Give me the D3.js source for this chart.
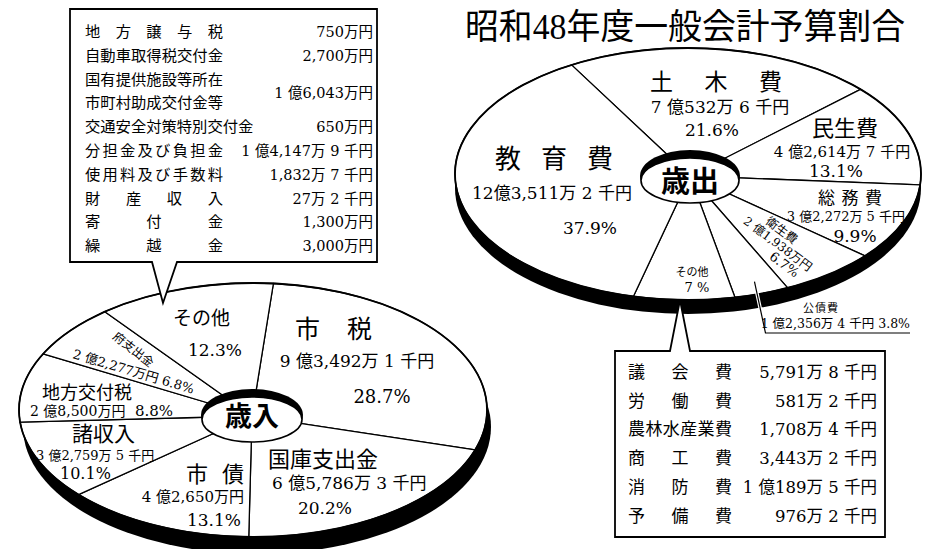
<!DOCTYPE html>
<html><head><meta charset="utf-8">
<script src="https://cdn.jsdelivr.net/npm/d3@7"></script>
<style>body{margin:0;background:#fff}svg{display:block}</style>
</head><body><svg id="c" width="928" height="549"></svg>
<script>
// ---------------- data ----------------
const chartTitle = "昭和48年度一般会計予算割合";
const revenueTitle = "歳入";
const expenseTitle = "歳出";

const revenueNames   = ["市税", "国庫支出金", "市債", "諸収入", "地方交付税", "府支出金", "その他"];
const revenueAmounts = ["9 億3,492万 1 千円", "6 億5,786万 3 千円", "4 億2,650万円", "3 億2,759万 5 千円", "2 億8,500万円", "2 億2,277万円", ""];
const revenueShares  = [28.7, 20.2, 13.1, 10.1, 8.8, 6.8, 12.3];

const expenseNames   = ["土木費", "民生費", "総務費", "衛生費", "公債費", "その他", "教育費"];
const expenseAmounts = ["7 億532万 6 千円", "4 億2,614万 7 千円", "3 億2,272万 5 千円", "2 億1,938万円", "1 億2,356万 4 千円", "", "12億3,511万 2 千円"];
const expenseShares  = [21.6, 13.1, 9.9, 6.7, 3.8, 7, 37.9];

const otherRevenueItems   = ["地方譲与税", "自動車取得税交付金", "国有提供施設等所在\n市町村助成交付金等", "交通安全対策特別交付金", "分担金及び負担金", "使用料及び手数料", "財産収入", "寄付金", "繰越金"];
const otherRevenueAmounts = ["750万円", "2,700万円", "1 億6,043万円", "650万円", "1 億4,147万 9 千円", "1,832万 7 千円", "27万 2 千円", "1,300万円", "3,000万円"];

const otherExpenseItems   = ["議会費", "労働費", "農林水産業費", "商工費", "消防費", "予備費"];
const otherExpenseAmounts = ["5,791万 8 千円", "581万 2 千円", "1,708万 4 千円", "3,443万 2 千円", "1 億189万 5 千円", "976万 2 千円"];

// ---------------- layout ----------------
const CJK = "'Noto Sans CJK JP', sans-serif";
const MIX = "'DejaVu Serif', 'Noto Sans CJK JP', serif";

const revPie = {cx: 253, cy: 410, rx: 234, ry: 127, ax: 252, ay: 416, start: 5, dx: 4, dy: 17};
const expPie = {cx: 688, cy: 174, rx: 233, ry: 126, ax: 690, ay: 176, start: -30, dx: 0, dy: 14};

const revLayout = [
  {name: {spread: [295, 372], y: 338, size: 25}, amt: {x: 357, y: 367, size: 17, anchor: "middle"}, pct: {x: 382, y: 403, size: 18, anchor: "middle"}},
  {name: {x: 268, y: 467, size: 22}, amt: {x: 272, y: 489, size: 17}, pct: {x: 325, y: 514, size: 17, anchor: "middle"}},
  {name: {spread: [186, 244], y: 482, size: 22}, amt: {x: 244, y: 502, size: 15, anchor: "end"}, pct: {x: 214, y: 526, size: 17, anchor: "middle"}},
  {name: {x: 72, y: 441, size: 21}, amt: {x: 36, y: 460, size: 13}, pct: {x: 60, y: 479, size: 16}},
  {name: {x: 42, y: 399, size: 18}, amt: {x: 30, y: 416, size: 14}, pct: {x: 135, y: 416, size: 15}},
  {rot: true, name: {x: 112, y: 338, size: 12, angle: 38}, amt: {x: 72, y: 358, size: 13, angle: 16.5}},
  {name: {x: 173, y: 325, size: 19}, pct: {x: 215, y: 356, size: 17, anchor: "middle"}}
];

const expLayout = [
  {name: {spread: [650, 782], y: 90, size: 23}, amt: {x: 720, y: 113, size: 17, anchor: "middle"}, pct: {x: 712, y: 136, size: 17, anchor: "middle"}},
  {name: {x: 812, y: 136, size: 22}, amt: {x: 842, y: 157, size: 15, anchor: "middle"}, pct: {x: 836, y: 177, size: 17, anchor: "middle"}},
  {name: {spread: [818, 882], y: 204, size: 17}, amt: {x: 905, y: 221, size: 13, anchor: "end"}, pct: {x: 855, y: 242, size: 17, anchor: "middle"}},
  {wedge: true, name: {x: 88, y: -7, size: 12}, amt: {x: 70, y: 6, size: 12}, pct: {x: 112, y: 19, size: 13}},
  {leader: true, name: {spread: [803, 838], y: 312, size: 11}, amt: {x: 910, y: 328, size: 12.5, anchor: "end"}},
  {name: {x: 692, y: 276, size: 11, anchor: "middle"}, pct: {x: 697, y: 292, size: 13, anchor: "middle", sep: " "}},
  {name: {spread: [495, 613], y: 168, size: 26}, amt: {x: 472, y: 199, size: 17}, pct: {x: 590, y: 234, size: 17, anchor: "middle"}}
];

// ---------------- helpers ----------------
const svg = d3.select("#c");
svg.append("rect").attr("width", 928).attr("height", 549).attr("fill", "#fff");

function put(g, s, x, y, size, opt = {}) {
  return g.append("text")
    .attr("x", x).attr("y", y)
    .attr("font-size", size)
    .attr("font-family", opt.family || MIX)
    .attr("font-weight", opt.weight || 400)
    .attr("text-anchor", opt.anchor || "start")
    .attr("fill", "#000")
    .text(s);
}
function spread(g, s, x0, x1, y, size, opt = {}) {
  const chars = Array.from(s);
  const n = chars.length;
  const step = n > 1 ? (x1 - x0 - size) / (n - 1) : 0;
  if (n === 1 || step < size) { put(g, s, x0, y, size, Object.assign({family: CJK}, opt)); return; }
  chars.forEach((c, i) => put(g, c, x0 + i * step, y, size, Object.assign({family: CJK}, opt)));
}
function label(g, spec, s, family) {
  if (!s) return;
  if (spec.spread) spread(g, s, spec.spread[0], spec.spread[1], spec.y, spec.size);
  else put(g, s, spec.x, spec.y, spec.size, {anchor: spec.anchor, family: family});
}

function drawPie(cfg, shares, names, amounts, layout, centerText, centerCfg) {
  const g = svg.append("g");
  const {cx, cy, rx, ry, ax, ay, start, dx, dy} = cfg;
  const s0 = start * Math.PI / 180;
  const arcs = d3.pie().sort(null).value(d => d).startAngle(s0).endAngle(s0 + 2 * Math.PI)(shares);
  const pt = a => [cx + rx * Math.sin(a), cy - ry * Math.cos(a)];

  // side (thickness)
  g.append("ellipse").attr("cx", cx + dx).attr("cy", cy + dy).attr("rx", rx).attr("ry", ry).attr("fill", "#000");
  // slices
  g.selectAll("path.slice").data(arcs).join("path")
    .attr("class", "slice")
    .attr("d", d => {
      const p0 = pt(d.startAngle), p1 = pt(d.endAngle);
      const large = (d.endAngle - d.startAngle) > Math.PI ? 1 : 0;
      return `M${ax},${ay}L${p0[0]},${p0[1]}A${rx},${ry} 0 ${large} 1 ${p1[0]},${p1[1]}Z`;
    })
    .attr("fill", "#fff").attr("stroke", "#000").attr("stroke-width", 1.3).attr("stroke-linejoin", "round");
  g.append("ellipse").attr("cx", cx).attr("cy", cy).attr("rx", rx).attr("ry", ry)
    .attr("fill", "none").attr("stroke", "#000").attr("stroke-width", 1.8);

  // labels
  arcs.forEach((d, i) => {
    const L = layout[i];
    const pctText = shares[i] + (L.pct && L.pct.sep ? L.pct.sep : "") + "%";
    if (L.rot) {
      const gn = g.append("g").attr("transform", `translate(${L.name.x},${L.name.y}) rotate(${L.name.angle})`);
      put(gn, names[i], 0, 0, L.name.size, {family: CJK});
      const ga = g.append("g").attr("transform", `translate(${L.amt.x},${L.amt.y}) rotate(${L.amt.angle})`);
      put(ga, amounts[i] + "  " + pctText, 0, 0, L.amt.size);
      return;
    }
    if (L.wedge) {
      const p0 = pt(d.startAngle), p1 = pt(d.endAngle);
      const a0 = Math.atan2(p0[1] - ay, p0[0] - ax), a1 = Math.atan2(p1[1] - ay, p1[0] - ax);
      const ang = (a0 + a1) / 2 * 180 / Math.PI;
      const gw = g.append("g").attr("transform", `translate(${ax},${ay}) rotate(${ang})`);
      put(gw, names[i], L.name.x, L.name.y, L.name.size, {family: CJK});
      put(gw, amounts[i], L.amt.x, L.amt.y, L.amt.size);
      put(gw, pctText, L.pct.x, L.pct.y, L.pct.size);
      return;
    }
    if (L.leader) {
      const mid = (d.startAngle + d.endAngle) / 2;
      const p = [cx + 0.9 * rx * Math.sin(mid), cy - 0.9 * ry * Math.cos(mid)];
      const path = `M${p[0]},${p[1]}L${p[0] + 11},333L910,333`;
      g.append("path").attr("d", path).attr("fill", "none").attr("stroke", "#fff").attr("stroke-width", 3.5);
      g.append("path").attr("d", path).attr("fill", "none").attr("stroke", "#000").attr("stroke-width", 1.2);
      label(g, L.name, names[i], CJK);
      put(g, amounts[i] + " " + pctText, L.amt.x, L.amt.y, L.amt.size, {anchor: L.amt.anchor});
      return;
    }
    label(g, L.name, names[i], CJK);
    if (L.amt) label(g, L.amt, amounts[i]);
    if (L.pct) label(g, L.pct, pctText);
  });

  // centre hole
  const h = centerCfg;
  g.append("ellipse").attr("cx", h.x).attr("cy", h.y - 1).attr("rx", h.rx).attr("ry", h.ry).attr("fill", "#000");
  g.append("ellipse").attr("cx", h.x).attr("cy", h.y + 3.5).attr("rx", h.rx - 1).attr("ry", h.ry - 3.5)
    .attr("fill", "#fff").attr("stroke", "#000").attr("stroke-width", 1.6);
  put(g, centerText, h.x, h.ty, h.size, {family: CJK, weight: 700, anchor: "middle"});
}

drawPie(revPie, revenueShares, revenueNames, revenueAmounts, revLayout, revenueTitle,
  {x: 252, y: 416, rx: 51, ry: 26, ty: 426, size: 27});
drawPie(expPie, expenseShares, expenseNames, expenseAmounts, expLayout, expenseTitle,
  {x: 690, y: 177, rx: 50, ry: 26, ty: 192, size: 29});

// ---------------- title ----------------
svg.append("text").attr("x", 465).attr("y", 39)
  .attr("font-size", 35).attr("font-family", "'Liberation Serif', 'Noto Sans CJK JP', serif")
  .attr("textLength", 440).attr("lengthAdjust", "spacingAndGlyphs")
  .attr("fill", "#000").text(chartTitle);

// ---------------- callout box: 歳入 その他 ----------------
const b1 = svg.append("g");
b1.append("path").attr("d", "M70,9H377V262H177L163,303L152,262H70Z")
  .attr("fill", "#fff").attr("stroke", "#000").attr("stroke-width", 1.8).attr("stroke-linejoin", "miter");
{
  let line = 0;
  const base = 37, step = 23.8;
  otherRevenueItems.forEach((item, i) => {
    const parts = item.split("\n");
    parts.forEach((p, k) => {
      const y = base + (line + k) * step;
      const natural = Array.from(p).length * 15.3;
      if (natural < 138) spread(b1, p, 85, 223, y, 15.3);
      else put(b1, p, 85, y, 15.3, {family: CJK});
    });
    const vy = base + (line + (parts.length - 1) / 2) * step + (parts.length > 1 ? 1 : 0);
    put(b1, otherRevenueAmounts[i], 373, vy, 14.5, {anchor: "end"});
    line += parts.length;
  });
}

// ---------------- callout box: 歳出 その他 ----------------
const b2 = svg.append("g");
b2.append("path").attr("d", "M615,351H670L680,300L690,351H885V537H615Z")
  .attr("fill", "#fff").attr("stroke", "#000").attr("stroke-width", 1.8);
otherExpenseItems.forEach((item, i) => {
  const y = 378 + i * 28.7;
  spread(b2, item, 628, 732, y, 17);
  put(b2, otherExpenseAmounts[i], 877, y, 16.5, {anchor: "end"});
});
</script>
</body></html>
